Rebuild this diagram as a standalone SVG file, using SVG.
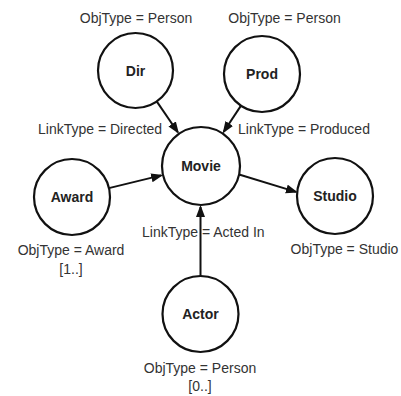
<svg xmlns="http://www.w3.org/2000/svg" width="401" height="396" viewBox="0 0 401 396">
<style>
.n{fill:#fff;stroke:#111;stroke-width:2.2}
.nl{font-family:"Liberation Sans",Arial,sans-serif;font-weight:bold;font-size:14px;fill:#222;text-anchor:middle}
.t{font-family:"Liberation Sans",Arial,sans-serif;font-size:14px;fill:#333}
.m{text-anchor:middle}
.e{stroke:#111;stroke-width:2;fill:none;marker-end:url(#ah)}
</style>
<defs>
<marker id="ah" markerUnits="userSpaceOnUse" markerWidth="13" markerHeight="10" refX="10" refY="4.5" orient="auto">
<path d="M0,0 L12,4.5 L0,9 z" fill="#111"/>
</marker>
</defs>
<rect width="401" height="396" fill="#fff"/>
<g id="connectors">
<line class="e" x1="156.7" y1="101.4" x2="177.8" y2="132.2"/>
<line class="e" x1="241.0" y1="105.6" x2="223.7" y2="131.8"/>
<line class="e" x1="108.9" y1="188.1" x2="161.2" y2="175.4"/>
<line class="e" x1="239.1" y1="174.5" x2="296.0" y2="191.9"/>
<line class="e" x1="200.5" y1="276" x2="200.5" y2="207"/>
</g>
<g id="dir">
<circle class="n" cx="135.5" cy="70.5" r="37.5"/>
<text class="nl" x="135.5" y="75.5">Dir</text>
<text class="t m" x="136" y="23">ObjType = Person</text>
</g>
<g id="prod">
<circle class="n" cx="262" cy="74" r="38"/>
<text class="nl" x="262" y="79">Prod</text>
<text class="t m" x="284.5" y="23">ObjType = Person</text>
</g>
<g id="movie">
<circle class="n" cx="201" cy="166" r="39"/>
<text class="nl" x="201" y="171">Movie</text>
</g>
<g id="award">
<circle class="n" cx="72" cy="197" r="38"/>
<text class="nl" x="72" y="202">Award</text>
<text class="t m" x="71" y="255">ObjType = Award</text>
<text class="t m" x="71" y="274">[1..]</text>
</g>
<g id="studio">
<circle class="n" cx="335" cy="196" r="38"/>
<text class="nl" x="335" y="201">Studio</text>
<text class="t m" x="344.5" y="254">ObjType = Studio</text>
</g>
<g id="actor">
<circle class="n" cx="200.5" cy="314" r="38"/>
<text class="nl" x="200.5" y="319">Actor</text>
<text class="t m" x="200" y="373">ObjType = Person</text>
<text class="t m" x="200" y="391">[0..]</text>
</g>
<g id="link-labels">
<text class="t" x="38" y="134">LinkType = Directed</text>
<text class="t" x="238" y="134">LinkType = Produced</text>
<text class="t" x="142" y="237">LinkType = Acted In</text>
</g>
</svg>
